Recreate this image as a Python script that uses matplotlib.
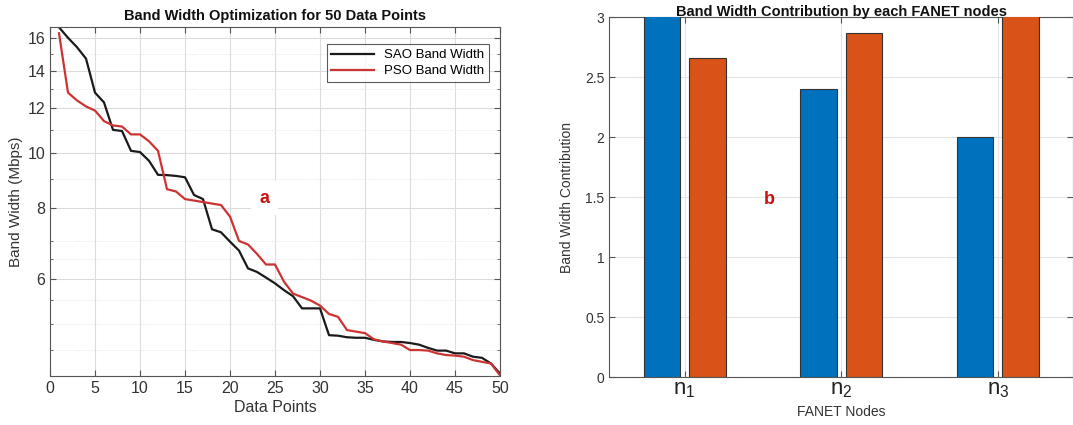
import matplotlib
matplotlib.use('Agg')
import matplotlib.pyplot as plt
from matplotlib.ticker import FixedLocator, NullFormatter

plt.rcParams['font.family'] = ['Liberation Sans', 'DejaVu Sans']
plt.rcParams['mathtext.fontset'] = 'custom'
plt.rcParams['mathtext.rm'] = 'Liberation Sans'

# ---- data, panel a ----
data_points = list(range(1, 51))
sao_bw = [16.7, 16.0, 15.4, 14.7, 12.8, 12.3, 11.0, 10.95, 10.1, 10.05,
          9.7, 9.16, 9.15, 9.12, 9.07, 8.44, 8.3, 7.34, 7.25, 6.98,
          6.73, 6.26, 6.17, 6.03, 5.89, 5.73, 5.59, 5.32, 5.32, 5.32,
          4.77, 4.76, 4.73, 4.72, 4.72, 4.68, 4.65, 4.64, 4.64, 4.62,
          4.59, 4.53, 4.48, 4.48, 4.43, 4.43, 4.37, 4.35, 4.25, 4.08]
pso_bw = [16.3, 12.8, 12.4, 12.1, 11.9, 11.4, 11.2, 11.15, 10.8, 10.8,
          10.5, 10.1, 8.64, 8.56, 8.3, 8.25, 8.2, 8.15, 8.1, 7.73,
          7.0, 6.9, 6.64, 6.36, 6.36, 5.93, 5.65, 5.57, 5.49, 5.38,
          5.2, 5.14, 4.87, 4.84, 4.81, 4.69, 4.65, 4.62, 4.59, 4.49,
          4.49, 4.48, 4.43, 4.4, 4.39, 4.37, 4.31, 4.28, 4.25, 4.05]
y_ticks_a = [6, 8, 10, 12, 14, 16]
y_minor_a = [4.5, 5, 5.5, 6.5, 7, 9, 11, 13, 15]

# ---- data, panel b ----
nodes = [1, 2, 3]
node_labels = [r'$\mathregular{n_1}$', r'$\mathregular{n_2}$', r'$\mathregular{n_3}$']
blue_vals = [3.3, 2.4, 2.0]
orange_vals = [2.66, 2.87, 3.4]

txt = '#333333'
axc = '#555555'
grid_c = '#dcdcdc'

fig = plt.figure(figsize=(10.73, 4.25), dpi=100)

# ---------------- panel a ----------------
ax1 = fig.add_axes([0.0466, 0.1153, 0.4194, 0.8205])
ax1.plot(data_points, sao_bw, color='#1a1a1a', lw=1.6, label='SAO Band Width')
ax1.plot(data_points, pso_bw, color='#cc3333', lw=1.6, label='PSO Band Width')
ax1.set_yscale('log')
ax1.set_xlim(0, 50)
ax1.set_ylim(4.04, 16.7)
ax1.yaxis.set_major_locator(FixedLocator(y_ticks_a))
ax1.set_yticklabels([str(v) for v in y_ticks_a])
ax1.yaxis.set_minor_locator(FixedLocator(y_minor_a))
ax1.yaxis.set_minor_formatter(NullFormatter())
ax1.set_xticks(range(0, 51, 5))
ax1.grid(True, which='major', color=grid_c, lw=0.8)
ax1.grid(True, which='minor', axis='y', color='#e3e3e3', lw=0.7, ls=':')
ax1.set_axisbelow(True)
ax1.tick_params(which='both', direction='in', top=True, right=True,
                labelsize=11.5, colors=axc, labelcolor=txt)
ax1.tick_params(which='major', length=4)
ax1.tick_params(which='minor', length=2)
for sp in ax1.spines.values():
    sp.set_color(axc)
ax1.set_title('Band Width Optimization for 50 Data Points', fontsize=10.5,
              fontweight='bold', pad=5, color='#111111')
ax1.set_xlabel('Data Points', fontsize=11.5, color=txt, labelpad=3)
ax1.set_ylabel('Band Width (Mbps)', fontsize=11, color=txt, labelpad=3)
leg = ax1.legend(loc='upper right', fontsize=9.5, frameon=True, fancybox=False,
                 edgecolor='#333333', handlelength=3.2, borderpad=0.35,
                 labelspacing=0.3, bbox_to_anchor=(0.99, 0.97))
leg.get_frame().set_linewidth(0.8)
fig.text(264.5 / 1073, 1 - 198.3 / 425, 'a', color='#cc1111', fontsize=13,
         fontweight='bold', ha='center', va='center',
         bbox=dict(facecolor='white', edgecolor='none', pad=6))

# ---------------- panel b ----------------
ax2 = fig.add_axes([0.568, 0.112, 0.432, 0.847])
off = 0.145
w = 0.233
ax2.bar([n - off for n in nodes], blue_vals, width=w, color='#0072BD',
        edgecolor='#333333', lw=0.8, zorder=3)
ax2.bar([n + off for n in nodes], orange_vals, width=w, color='#D95319',
        edgecolor='#333333', lw=0.8, zorder=3)
ax2.set_xlim(0.52, 3.48)
ax2.set_ylim(0, 3)
ax2.set_xticks(nodes)
ax2.set_xticklabels(node_labels)
ax2.set_yticks([0, 0.5, 1, 1.5, 2, 2.5, 3])
ax2.set_yticklabels(['0', '0.5', '1', '1.5', '2', '2.5', '3'])
ax2.grid(True, color='#e4e4e4', lw=0.8)
ax2.set_axisbelow(True)
ax2.tick_params(direction='in', top=True, right=True, length=4,
                labelsize=10, colors=axc, labelcolor=txt)
ax2.tick_params(axis='x', labelsize=16, pad=1, labelcolor='#222222')
for sp in ax2.spines.values():
    sp.set_color(axc)
ax2.set_title('Band Width Contribution by each FANET nodes', fontsize=10.5,
              fontweight='bold', pad=1, color='#111111')
ax2.set_xlabel('FANET Nodes', fontsize=10, color=txt, labelpad=4)
ax2.set_ylabel('Band Width Contribution', fontsize=10, color=txt, labelpad=8)
fig.text(769.6 / 1073, 1 - 200 / 425, 'b', color='#cc1111', fontsize=13,
         fontweight='bold', ha='center', va='center')

fig.savefig('out.png', dpi=100, facecolor='white')
